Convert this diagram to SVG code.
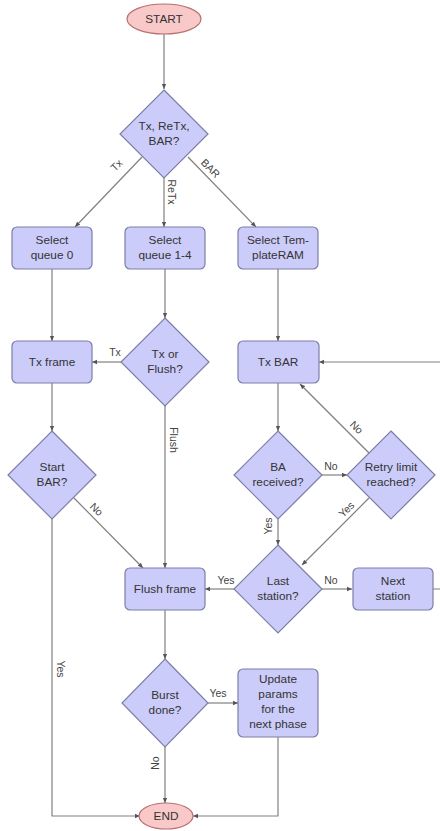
<svg xmlns="http://www.w3.org/2000/svg" width="440" height="831" viewBox="0 0 440 831">
<style>
.box{fill:#ccccfa;stroke:#7d7da8;stroke-width:1.2}
.dia{fill:#ccccfa;stroke:#7d7da8;stroke-width:1.2}
.term{fill:#f9c8c8;stroke:#b87070;stroke-width:1.2}
.t{font-family:"Liberation Sans",Arial,sans-serif;font-size:11.8px;fill:#333;text-anchor:middle}
.lbl{font-family:"Liberation Sans",Arial,sans-serif;font-size:10.5px;fill:#444;text-anchor:middle}
.c{fill:none;stroke:#808080;stroke-width:1.2}
</style>
<defs>
<marker id="ah" viewBox="0 0 8 8" refX="7" refY="4" markerWidth="5" markerHeight="5" orient="auto">
<path d="M0,1 L7,4 L0,7 z" fill="#555"/>
</marker>
</defs>
<rect width="440" height="831" fill="#fff"/>
<g id="connectors">
<path class="c" d="M164,34 V89" marker-end="url(#ah)"/>
<path class="c" d="M142,157 L75,227" marker-end="url(#ah)"/>
<path class="c" d="M164,178 V227" marker-end="url(#ah)"/>
<path class="c" d="M188,157 L256,227" marker-end="url(#ah)"/>
<path class="c" d="M52,269 V341" marker-end="url(#ah)"/>
<path class="c" d="M165,269 V318" marker-end="url(#ah)"/>
<path class="c" d="M278,269 V341" marker-end="url(#ah)"/>
<path class="c" d="M121,362 H92" marker-end="url(#ah)"/>
<path class="c" d="M52,383 V431" marker-end="url(#ah)"/>
<path class="c" d="M165,406 V568" marker-end="url(#ah)"/>
<path class="c" d="M74,498 L143,568" marker-end="url(#ah)"/>
<path class="c" d="M52,519 V816 H140" marker-end="url(#ah)"/>
<path class="c" d="M278,383 V431" marker-end="url(#ah)"/>
<path class="c" d="M322,475 H347" marker-end="url(#ah)"/>
<path class="c" d="M369,453 L300,384" marker-end="url(#ah)"/>
<path class="c" d="M278,519 V545" marker-end="url(#ah)"/>
<path class="c" d="M369,498 L302,565" marker-end="url(#ah)"/>
<path class="c" d="M322,589 H352" marker-end="url(#ah)"/>
<path class="c" d="M433,589 H446 V362 H319" marker-end="url(#ah)"/>
<path class="c" d="M234,589 H205" marker-end="url(#ah)"/>
<path class="c" d="M165,610 V659" marker-end="url(#ah)"/>
<path class="c" d="M208,703 H238" marker-end="url(#ah)"/>
<path class="c" d="M165,747 V803" marker-end="url(#ah)"/>
<path class="c" d="M278,737 V816 H193" marker-end="url(#ah)"/>
<text class="lbl" transform="translate(119,168) rotate(-45)">Tx</text>
<text class="lbl" transform="translate(168,192) rotate(90)">ReTx</text>
<text class="lbl" transform="translate(208,171) rotate(45)">BAR</text>
<text class="lbl" x="115" y="356">Tx</text>
<text class="lbl" transform="translate(170,440) rotate(90)">Flush</text>
<text class="lbl" transform="translate(94,512) rotate(45)">No</text>
<text class="lbl" transform="translate(57,669) rotate(90)">Yes</text>
<text class="lbl" transform="translate(354,430) rotate(45)">No</text>
<text class="lbl" x="331" y="470">No</text>
<text class="lbl" transform="translate(349,512) rotate(-45)">Yes</text>
<text class="lbl" transform="translate(272,526) rotate(-90)">Yes</text>
<text class="lbl" x="331" y="584">No</text>
<text class="lbl" x="226" y="584">Yes</text>
<text class="lbl" x="218" y="697">Yes</text>
<text class="lbl" transform="translate(159,763) rotate(-90)">No</text>
</g>
<g id="start"><ellipse class="term" cx="164" cy="19" rx="37" ry="15"/><text class="t" x="164" y="23">START</text></g>
<g id="d_type"><polygon class="dia" points="164,90 208,134 164,178 120,134"/><text class="t" x="164" y="130">Tx, ReTx,</text><text class="t" x="164" y="145">BAR?</text></g>
<g id="sel_q0"><rect class="box" x="12" y="227" width="80" height="42" rx="5"/><text class="t" x="52" y="244">Select</text><text class="t" x="52" y="259">queue 0</text></g>
<g id="sel_q14"><rect class="box" x="125" y="227" width="80" height="42" rx="5"/><text class="t" x="165" y="244">Select</text><text class="t" x="165" y="259">queue 1-4</text></g>
<g id="sel_tram"><rect class="box" x="238" y="227" width="80" height="42" rx="5"/><text class="t" x="278" y="244">Select Tem-</text><text class="t" x="278" y="259">plateRAM</text></g>
<g id="tx_frame"><rect class="box" x="12" y="341" width="80" height="42" rx="5"/><text class="t" x="52" y="366">Tx frame</text></g>
<g id="d_txflush"><polygon class="dia" points="165,318 209,362 165,406 121,362"/><text class="t" x="165" y="358">Tx or</text><text class="t" x="165" y="373">Flush?</text></g>
<g id="tx_bar"><rect class="box" x="238" y="341" width="81" height="42" rx="5"/><text class="t" x="278" y="366">Tx BAR</text></g>
<g id="d_startbar"><polygon class="dia" points="52,431 96,475 52,519 8,475"/><text class="t" x="52" y="471">Start</text><text class="t" x="52" y="486">BAR?</text></g>
<g id="d_ba"><polygon class="dia" points="278,431 322,475 278,519 234,475"/><text class="t" x="278" y="471">BA</text><text class="t" x="278" y="486">received?</text></g>
<g id="d_retry"><polygon class="dia" points="391,431 435,475 391,519 347,475"/><text class="t" x="391" y="471">Retry limit</text><text class="t" x="391" y="486">reached?</text></g>
<g id="flush_frame"><rect class="box" x="125" y="568" width="80" height="42" rx="5"/><text class="t" x="165" y="593">Flush frame</text></g>
<g id="d_last"><polygon class="dia" points="278,545 322,589 278,633 234,589"/><text class="t" x="278" y="585">Last</text><text class="t" x="278" y="600">station?</text></g>
<g id="next_station"><rect class="box" x="353" y="568" width="80" height="42" rx="5"/><text class="t" x="393" y="585">Next</text><text class="t" x="393" y="600">station</text></g>
<g id="d_burst"><polygon class="dia" points="165,659 208,703 165,747 122,703"/><text class="t" x="165" y="699">Burst</text><text class="t" x="165" y="714">done?</text></g>
<g id="update"><rect class="box" x="238" y="669" width="80" height="68" rx="5"/><text class="t" x="278" y="683">Update</text><text class="t" x="278" y="698">params</text><text class="t" x="278" y="713">for the</text><text class="t" x="278" y="728">next phase</text></g>
<g id="end"><ellipse class="term" cx="166" cy="816" rx="27" ry="13"/><text class="t" x="166" y="820">END</text></g>
</svg>
